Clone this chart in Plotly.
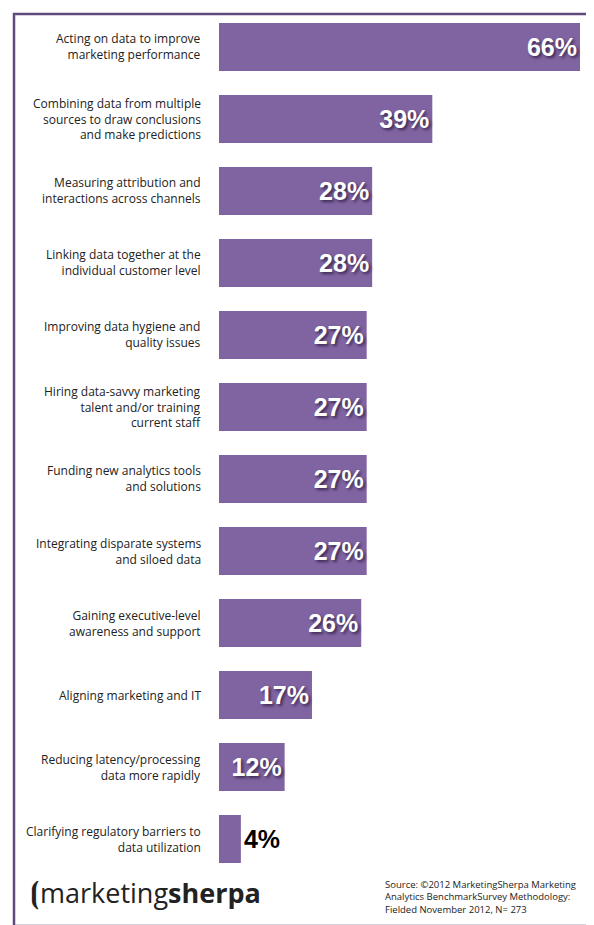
import plotly.graph_objects as go

categories = [
    "Acting on data to improve<br>marketing performance",
    "Combining data from multiple<br>sources to draw conclusions<br>and make predictions",
    "Measuring attribution and<br>interactions across channels",
    "Linking data together at the<br>individual customer level",
    "Improving data hygiene and<br>quality issues",
    "Hiring data-savvy marketing<br>talent and/or training<br>current staff",
    "Funding new analytics tools<br>and solutions",
    "Integrating disparate systems<br>and siloed data",
    "Gaining executive-level<br>awareness and support",
    "Aligning marketing and IT",
    "Reducing latency/processing<br>data more rapidly",
    "Clarifying regulatory barriers to<br>data utilization",
]
values = [66, 39, 28, 28, 27, 27, 27, 27, 26, 17, 12, 4]
labels = [f"{v}%" for v in values]

W, H = 594, 925
x0, x1 = 211, 572
ytop, ybot = 3, 867

big = [v >= 10 for v in values]
fig = go.Figure(go.Bar(
    x=values, y=list(range(len(values))), orientation="h",
    marker=dict(color="#8064a2", line=dict(width=0)),
    text=labels,
    textposition=["inside" if b else "outside" for b in big],
    insidetextanchor="end",
    textfont=dict(family="Liberation Sans, Arial", size=25, color=["white" if b else "black" for b in big],
                  weight="bold", shadow="2px 2px 3px #3a2a50"),
    outsidetextfont=dict(family="Liberation Sans, Arial", size=25, color="black", weight="bold", shadow="none"),
    cliponaxis=False,
    hoverinfo="skip",
))

ann = []
for i, c in enumerate(categories):
    ann.append(dict(x=0, y=i, xref="x", yref="y", text=c, showarrow=False,
                    xanchor="right", align="right", xshift=-16,
                    font=dict(family="Open Sans, Noto Sans", size=12, color="#222")))
ann.append(dict(x=20/W, y=1-883/H, xref="paper", yref="paper", xanchor="left", yanchor="middle",
                showarrow=False, text="<span style='font-size:30px'>⦗</span>marketing<b>sherpa</b>",
                font=dict(family="Open Sans, Noto Sans", size=27, color="#222")))
ann.append(dict(x=375/W, y=1-868/H, xref="paper", yref="paper", xanchor="left", yanchor="top",
                showarrow=False, align="left",
                text="Source: ©2012 MarketingSherpa Marketing<br>Analytics BenchmarkSurvey Methodology:<br>Fielded November 2012, N= 273",
                font=dict(family="Open Sans, Noto Sans", size=9.5, color="#222")))

fig.update_layout(
    width=W, height=H, margin=dict(l=0, r=0, t=0, b=0),
    paper_bgcolor="white", plot_bgcolor="white", showlegend=False,
    bargap=0.333,
    xaxis=dict(range=[0, 66], domain=[x0/W, x1/W], visible=False, fixedrange=True),
    yaxis=dict(range=[len(values)-0.5, -0.5], domain=[1-ybot/H, 1-ytop/H], visible=False, fixedrange=True),
    annotations=ann,
    shapes=[dict(type="rect", xref="paper", yref="paper", x0=6/W, x1=587/W, y0=1-918/H, y1=1-6/H,
                 line=dict(color="#604a7b", width=2.5))],
)
fig.write_html("out.html")
